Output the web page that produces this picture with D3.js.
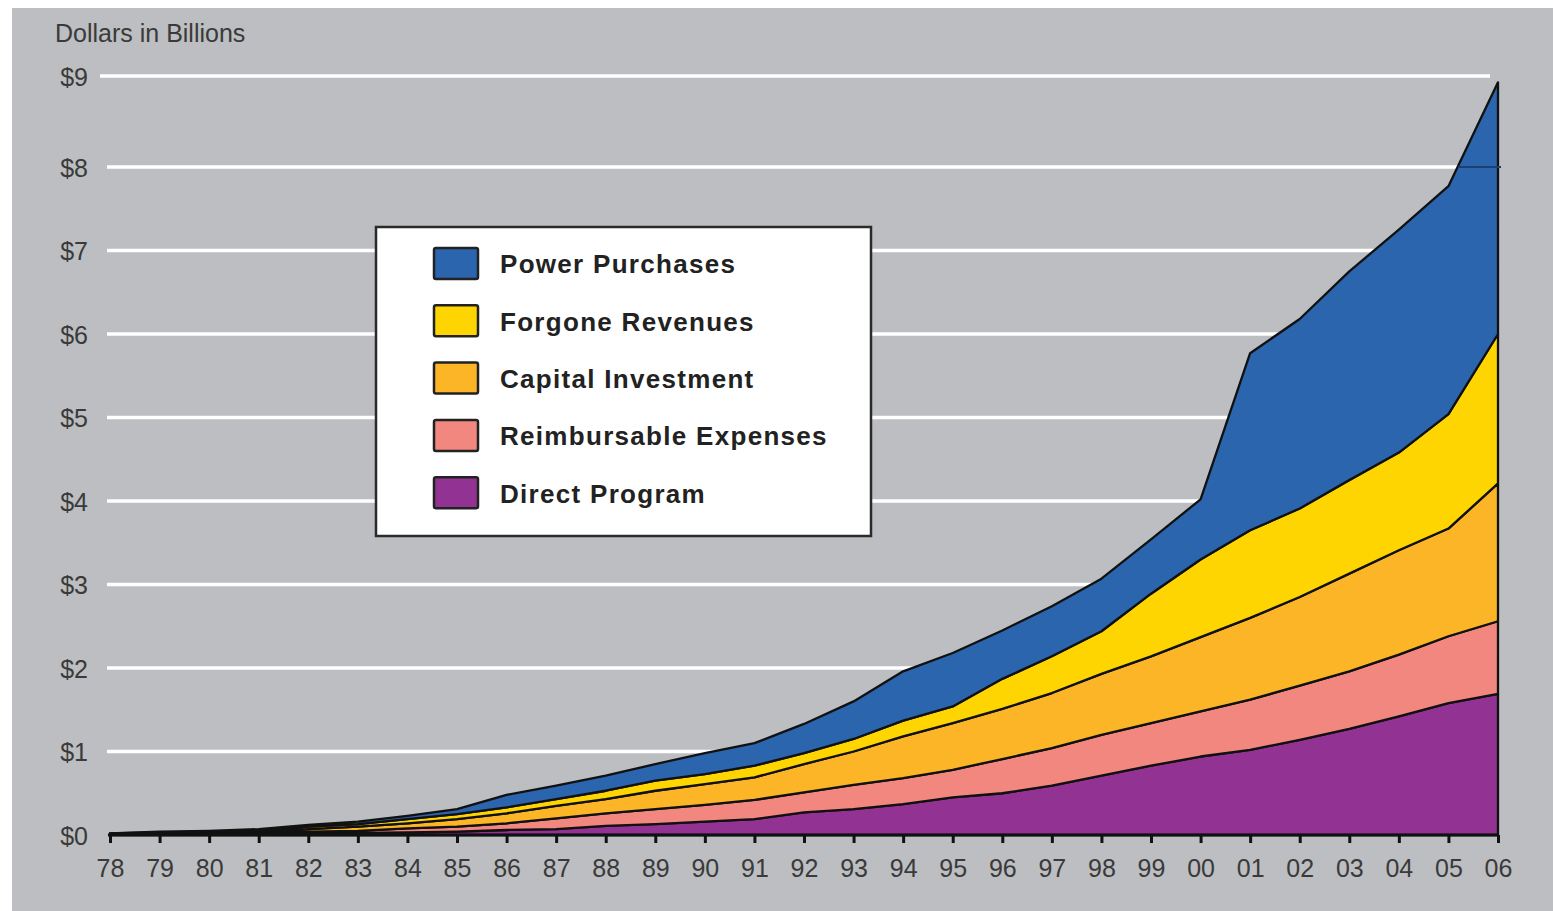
<!DOCTYPE html>
<html>
<head>
<meta charset="utf-8">
<script src="https://cdn.jsdelivr.net/npm/d3@7"></script>
<style>
  html, body { margin: 0; padding: 0; background: #ffffff; }
  svg { display: block; }
  text { font-family: "Liberation Sans", Arial, Helvetica, sans-serif; }
</style>
</head>
<body>
<svg id="chart" width="1553" height="911"></svg>
<script>
// ---------- DATA ----------
const years = [1978,1979,1980,1981,1982,1983,1984,1985,1986,1987,1988,1989,1990,1991,1992,1993,1994,1995,1996,1997,1998,1999,2000,2001,2002,2003,2004,2005,2006];
const yearLabels = ["78","79","80","81","82","83","84","85","86","87","88","89","90","91","92","93","94","95","96","97","98","99","00","01","02","03","04","05","06"];

// Layer values, $ billions (stacked bottom to top)
const directProgram   = [0.005,0.01,0.01,0.015,0.02,0.025,0.03,0.04,0.06,0.07,0.11,0.13,0.16,0.19,0.27,0.31,0.37,0.45,0.50,0.59,0.71,0.83,0.94,1.02,1.14,1.27,1.42,1.58,1.69];
const reimbursable    = [0.005,0.005,0.01,0.01,0.02,0.025,0.05,0.06,0.08,0.13,0.15,0.18,0.20,0.23,0.24,0.29,0.31,0.33,0.41,0.45,0.49,0.51,0.54,0.60,0.65,0.69,0.74,0.80,0.87];
const capitalInvest   = [0.005,0.01,0.01,0.015,0.03,0.05,0.06,0.09,0.12,0.15,0.17,0.22,0.25,0.27,0.34,0.40,0.50,0.56,0.60,0.66,0.73,0.80,0.89,0.98,1.06,1.17,1.25,1.29,1.65];
const forgoneRevenues = [0.005,0.005,0.01,0.015,0.03,0.03,0.05,0.06,0.07,0.08,0.10,0.12,0.12,0.14,0.13,0.15,0.19,0.20,0.36,0.44,0.51,0.75,0.93,1.05,1.06,1.12,1.17,1.37,1.79];
const powerPurchases  = [0.0,0.01,0.01,0.015,0.02,0.03,0.04,0.06,0.15,0.16,0.18,0.20,0.25,0.27,0.35,0.45,0.59,0.64,0.58,0.60,0.63,0.65,0.72,2.12,2.27,2.50,2.67,2.73,2.93];

const seriesKeys   = ["direct","reimb","capital","forgone","power"];
const seriesNames  = ["Direct Program","Reimbursable Expenses","Capital Investment","Forgone Revenues","Power Purchases"];
const seriesColors = ["#923292","#f2877f","#fbb526","#fed500","#2a65ae"];

const yTicks = [0,1,2,3,4,5,6,7,8,9];
const yTickLabels = ["$0","$1","$2","$3","$4","$5","$6","$7","$8","$9"];

// ---------- BUILD ----------
const table = years.map((yr, i) => ({
  year: yr,
  direct: directProgram[i],
  reimb: reimbursable[i],
  capital: capitalInvest[i],
  forgone: forgoneRevenues[i],
  power: powerPurchases[i]
}));

const svg = d3.select("#chart");
const W = 1553, H = 911;

// panel background
svg.append("rect").attr("x", 0).attr("y", 0).attr("width", W).attr("height", H).attr("fill", "#ffffff");
svg.append("rect").attr("x", 12).attr("y", 8).attr("width", W - 12).attr("height", H - 8).attr("fill", "#bcbec1");

const x = d3.scaleLinear().domain([1978, 2006]).range([110, 1498]);
const y = d3.scaleLinear().domain([0, 8, 9]).range([835, 167, 76]);

// gridlines
svg.append("g").selectAll("line")
  .data(yTicks.filter(d => d > 0))
  .join("line")
  .attr("x1", d => d === 9 ? 100 : 107)
  .attr("x2", 1490)
  .attr("y1", d => y(d)).attr("y2", d => y(d))
  .attr("stroke", "#ffffff")
  .attr("stroke-width", 3.5);

// y axis labels
const yAxis = d3.axisLeft(y).tickValues(yTicks).tickFormat((d, i) => yTickLabels[i]).tickSize(0).tickPadding(0);
const gy = svg.append("g").attr("transform", "translate(88,0)").call(yAxis);
gy.select(".domain").remove();
gy.selectAll("text")
  .attr("x", 0)
  .attr("dy", "0.36em")
  .attr("font-size", 25)
  .attr("fill", "#3a3a3a")
  .attr("font-family", "'Liberation Sans', Arial, sans-serif");

// axis title
svg.append("text")
  .attr("x", 55).attr("y", 42)
  .attr("font-size", 25)
  .attr("fill", "#3a3a3a")
  .text("Dollars in Billions");

// stacked areas
const stack = d3.stack().keys(seriesKeys);
const layers = stack(table);

const area = d3.area()
  .x(d => x(d.data.year))
  .y0(d => y(d[0]))
  .y1(d => y(d[1]))
  .curve(d3.curveLinear);

svg.append("g").selectAll("path")
  .data(layers)
  .join("path")
  .attr("d", area)
  .attr("fill", (d, i) => seriesColors[i])
  .attr("stroke", "#111111")
  .attr("stroke-width", 2.3)
  .attr("stroke-linejoin", "round");

// faint splice line at $8 in the top layer
const topLayer = layers[layers.length - 1];
const n = topLayer.length;
const a = topLayer[n - 2][1], b = topLayer[n - 1][1];
if (b > 8 && a < 8) {
  const t = (8 - a) / (b - a);
  const xc = x(years[n - 2]) + t * (x(years[n - 1]) - x(years[n - 2]));
  svg.append("line")
    .attr("x1", xc).attr("x2", x(years[n - 1]) + 3)
    .attr("y1", y(8)).attr("y2", y(8))
    .attr("stroke", "#1b3f70").attr("stroke-width", 2);
}

// x axis
const xAxis = d3.axisBottom(x).tickValues(years).tickFormat((d, i) => yearLabels[i]).tickSize(8).tickSizeOuter(0);
const gx = svg.append("g").attr("transform", `translate(0,${y(0)})`).call(xAxis);
gx.select(".domain").remove();
gx.selectAll(".tick line").attr("stroke", "#111").attr("stroke-width", 3);
gx.selectAll("text")
  .attr("y", 42).attr("dy", null)
  .attr("font-size", 25)
  .attr("fill", "#3a3a3a")
  .attr("font-family", "'Liberation Sans', Arial, sans-serif");

svg.append("line")
  .attr("x1", 108).attr("x2", 1499)
  .attr("y1", y(0)).attr("y2", y(0))
  .attr("stroke", "#111").attr("stroke-width", 3);

// legend
const legend = svg.append("g");
legend.append("rect")
  .attr("x", 376).attr("y", 227).attr("width", 495).attr("height", 309)
  .attr("fill", "#ffffff").attr("stroke", "#2b2b2b").attr("stroke-width", 2.5);

const legendOrder = d3.range(seriesKeys.length).reverse();
const rows = legend.selectAll("g.row")
  .data(legendOrder)
  .join("g")
  .attr("class", "row")
  .attr("transform", (d, j) => `translate(0,${264 + j * 57.3})`);
rows.append("rect")
  .attr("x", 434).attr("y", -16).attr("width", 44).attr("height", 31)
  .attr("rx", 2)
  .attr("fill", d => seriesColors[d])
  .attr("stroke", "#222").attr("stroke-width", 2.5);
rows.append("text")
  .attr("x", 500).attr("y", 0).attr("dy", "0.36em")
  .attr("font-size", 26)
  .attr("font-weight", "bold")
  .attr("letter-spacing", "1.3px")
  .attr("fill", "#222")
  .text(d => seriesNames[d]);
</script>
</body>
</html>
